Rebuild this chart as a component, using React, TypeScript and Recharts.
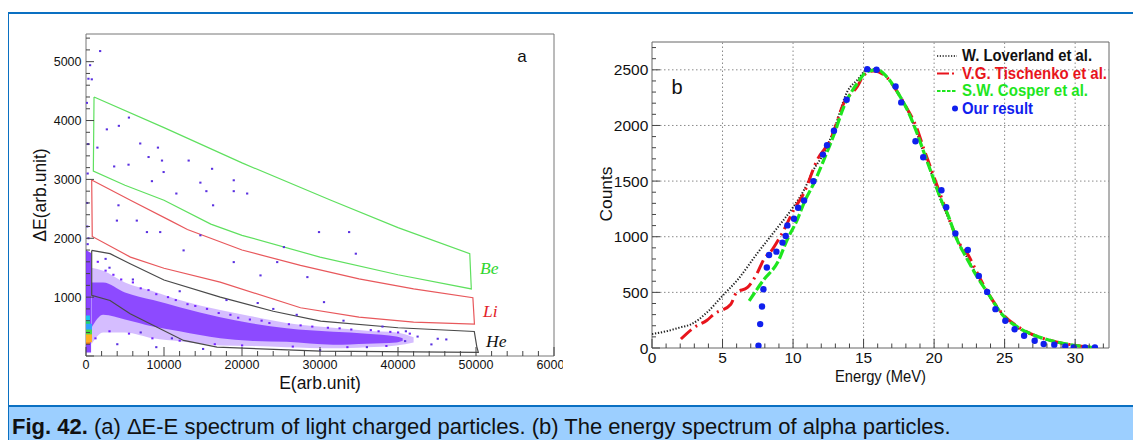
import React from "react";
import {
  ComposedChart,
  Line,
  Area,
  Scatter,
  XAxis,
  YAxis,
  Label,
  ReferenceArea,
  ReferenceLine,
} from "recharts";

const SANS = "'Liberation Sans', Arial, Helvetica, sans-serif";
const SERIF = "'Liberation Serif', 'Times New Roman', serif";
const BLUE = "#0a70c2";

// ---------- panel (a): ΔE-E ----------
// particle selection cuts (closed polygons)
const heE = [730, 3080, 5660, 10000, 17220, 24000, 30080, 40000, 49780, 50100, 50300, 30080, 16800, 12510, 9500, 5660, 3080, 730, 730];
const heDE = [1794, 1738, 1568, 1290, 1000, 760, 592, 480, 417, 160, 60, 82, 150, 264, 463, 718, 944, 1030, 1794];

const liE = [730, 5700, 10800, 13000, 20000, 27500, 35000, 42000, 49600, 49800, 42000, 35000, 27500, 17200, 10000, 5700, 800, 730];
const liDE = [2990, 2645, 2300, 2150, 1800, 1540, 1310, 1140, 990, 540, 575, 660, 820, 1255, 1490, 1680, 2030, 2990];

const beE = [1030, 10000, 20000, 31400, 40000, 49200, 49400, 40000, 30000, 20000, 16000, 10000, 5000, 940, 1030];
const beDE = [4400, 3880, 3280, 2645, 2180, 1740, 1140, 1380, 1680, 2050, 2240, 2645, 2900, 3140, 4400];

// alpha band: dense core and sparse halo (lower / upper edge)
const coreE = [700, 2200, 5000, 8600, 12000, 17200, 21000, 25700, 31700, 36000, 39800, 40600];
const coreLo = [480, 700, 620, 500, 420, 300, 260, 240, 190, 210, 230, 260];
const coreHi = [1250, 1250, 1080, 950, 830, 660, 560, 470, 410, 380, 330, 300];

const haloE = [700, 2200, 5000, 8600, 12000, 17200, 21000, 25700, 31700, 36000, 39800, 42000];
const haloLo = [200, 400, 400, 300, 250, 180, 170, 150, 130, 150, 180, 230];
const haloHi = [1500, 1450, 1250, 1100, 950, 780, 680, 560, 480, 430, 400, 320];

// low-energy strip along the ΔE axis
const stripE = [0, 650];
const stripLo = [60, 60];
const stripHi = [1800, 1750];

// high-count bins in the strip
const hotE = [120, 120, 120, 120, 120, 380, 380, 380];
const hotDE = [620, 520, 430, 350, 270, 480, 380, 300];
const hotColor = ["#18c8f0", "#20d860", "#f0e020", "#ff3020", "#f08020", "#30a0ff", "#40e040", "#ffb020"];

// isolated events
const sparseE = [1800, 510, 300, 730, 5490, 4200, 2660, 6940, 9210, 1450, 8010, 3600, 5440, 9730, 9940, 13150, 8440, 14650, 16150, 18930, 18930, 11570, 15420, 20650, 16280, 4150, 6500, 3950, 7800, 9500, 12500, 14650, 18930, 22360, 25360, 28370, 24500, 29860, 33720, 34580, 30500, 45080, 40900, 44270, 46180, 42500, 3000, 6000, 12000, 4000, 9000, 15000, 22000, 27000, 33000, 36000, 2500, 7000, 11000, 18000, 24000, 30000, 38000, 41000, 150, 200, 250, 100, 150, 300, 200];
const sparseDE = [5180, 4940, 4710, 4700, 4050, 3910, 3850, 3610, 3540, 3540, 3380, 3220, 3250, 3320, 3125, 3320, 2970, 2945, 3180, 2985, 2800, 2760, 2800, 2760, 2560, 2560, 2300, 2300, 2105, 2105, 1794, 2050, 1595, 1369, 1850, 1340, 1595, 2105, 2105, 1738, 915, 293, 253, 197, 281, 330, 1500, 1300, 1100, 200, 150, 120, 900, 700, 600, 150, 1650, 400, 300, 950, 800, 100, 500, 420, 2600, 3100, 3600, 4300, 2200, 2000, 1900];

const fringeE = [1500, 2500, 3500, 4500, 6000, 7000, 8000, 9000, 10500, 11500, 13000, 14000, 15500, 17000, 18500, 19500, 21000, 22500, 23500, 26000, 27500, 29000, 31000, 32500, 34000, 36500, 37500, 39000, 40000, 41500, 1200, 3000, 5500, 8500, 12000, 16500, 20000, 26500, 33500, 38500];
const fringeDE = [1600, 1450, 1380, 1300, 1250, 1150, 1120, 1050, 1000, 950, 880, 850, 800, 730, 700, 650, 620, 600, 560, 540, 520, 500, 480, 470, 450, 440, 420, 410, 400, 380, 300, 420, 380, 300, 260, 200, 180, 160, 150, 170];

const aXMajor = [0, 10000, 20000, 30000, 40000, 50000, 60000];
const aYMajor = [1000, 2000, 3000, 4000, 5000];
const aXTicks = Array.from({ length: 31 }, (_, i) => i * 2000);
const aYTicks = Array.from({ length: 28 }, (_, i) => i * 200);

// ---------- panel (b): alpha energy spectrum ----------
const lovE = [0, 1, 2, 2.8, 3.9, 5, 6.1, 7.5, 8.8, 10, 10.8, 11.4, 12.2, 12.9, 13.85, 14.56, 15.26, 15.85, 16.68, 17.39, 18.1, 18.68, 19.27, 19.87, 20.45, 20.93, 21.63, 22.34, 23.05, 23.76, 24.94, 25.88, 27.06, 28.24, 29.89, 31.42];
const lovC = [125, 150, 185, 215, 320, 469, 618, 857, 1066, 1265, 1425, 1589, 1753, 1962, 2305, 2410, 2500, 2506, 2425, 2305, 2141, 1962, 1753, 1544, 1335, 1190, 977, 813, 648, 499, 289, 185, 110, 65, 27, 6];

const tisE = [2.05, 2.99, 3.9, 4.4, 5.59, 5.99, 6.77, 7.48, 7.9, 8.54, 9.25, 10.07, 10.78, 11.72, 12.66, 13.6, 14.56, 15.05, 15.7, 16.5, 17.3, 18.0, 18.7, 19.3, 19.9, 20.5, 21.1, 21.7, 22.4, 23.0, 23.8, 24.9, 25.9, 27.0, 28.2, 29.9, 31.4];
const tisC = [81, 185, 250, 305, 394, 499, 544, 678, 790, 887, 1037, 1245, 1395, 1693, 1873, 2200, 2350, 2455, 2490, 2450, 2320, 2170, 2000, 1780, 1570, 1360, 1150, 960, 840, 690, 500, 300, 195, 120, 70, 25, 5];

const cosE = [6.89, 7.95, 8.9, 9.6, 10.31, 10.78, 11.49, 12.19, 12.9, 13.61, 14.56, 15.26, 15.97, 16.7, 17.4, 18.1, 18.7, 19.3, 19.9, 20.5, 21.0, 21.6, 22.3, 23.0, 23.8, 24.9, 25.9, 27.1, 28.2, 29.9, 31.6];
const cosC = [424, 618, 768, 977, 1156, 1305, 1485, 1693, 1917, 2171, 2380, 2485, 2500, 2430, 2300, 2140, 1960, 1750, 1540, 1330, 1190, 980, 810, 650, 495, 290, 190, 115, 70, 25, 0];

const ourE = [7.55, 7.67, 7.8, 7.9, 8.14, 8.3, 8.82, 9.25, 9.48, 9.6, 10.07, 10.36, 10.78, 11.44, 12.12, 12.41, 12.9, 13.8, 15.26, 15.92, 17.27, 17.67, 18.68, 19.23, 20.52, 20.86, 21.51, 22.39, 23.17, 23.76, 24.35, 25.05, 25.71, 26.38, 27.13, 27.77, 28.52, 29.3, 29.9, 30.7, 31.4];
const ourC = [21, 215, 373, 528, 723, 836, 866, 947, 1006, 1102, 1162, 1260, 1326, 1499, 1738, 1822, 1953, 2231, 2506, 2500, 2350, 2207, 1858, 1714, 1418, 1266, 1030, 881, 648, 504, 349, 245, 168, 110, 65, 36, 30, 15, 5, 5, 5];

const bXMajor = [0, 5, 10, 15, 20, 25, 30];
const bYMajor = [0, 500, 1000, 1500, 2000, 2500];
const bXTicks = Array.from({ length: 33 }, (_, i) => i);
const bYTicks = Array.from({ length: 28 }, (_, i) => i * 100);

const pts = (xs: number[], ys: number[]) => xs.map((x, i) => ({ x, y: ys[i] }));
const band = (xs: number[], lo: number[], hi: number[]) => xs.map((x, i) => ({ x, r: [lo[i], hi[i]] }));

const xTick = (majors: number[], majorLen: number, minorLen: number, fontSize: number, dy: number) =>
  (props: any) => {
    const { x, y, payload } = props;
    const major = majors.includes(payload.value);
    return (
      <g>
        <line x1={x} y1={y} x2={x} y2={y - (major ? majorLen : minorLen)} stroke="#444" />
        {major && (
          <text x={x} y={y + dy} textAnchor="middle" fontSize={fontSize} fontFamily={SANS} fill="#111">
            {payload.value}
          </text>
        )}
      </g>
    );
  };

const yTick = (majors: number[], majorLen: number, minorLen: number, fontSize: number, gap: number) =>
  (props: any) => {
    const { x, y, payload } = props;
    const major = majors.includes(payload.value);
    const labelled = major && payload.value !== 0 ? true : major && majors[0] === 0;
    return (
      <g>
        <line x1={x} y1={y} x2={x + (major || payload.value % 1000 === 0 ? majorLen : minorLen)} y2={y} stroke="#444" />
        {labelled && (
          <text x={x - gap} y={y} dy="0.36em" textAnchor="end" fontSize={fontSize} fontFamily={SANS} fill="#111">
            {payload.value}
          </text>
        )}
      </g>
    );
  };

const pixel = (color: string) => (p: any) => (
  <rect x={p.cx - 1} y={p.cy - 1} width={2.2} height={2} fill={color} />
);

function PanelA() {
  const purple = "#7424ff";
  return (
    <ComposedChart width={580} height={400} margin={{ top: 34, right: 26, bottom: 0, left: 0 }}>
      <XAxis
        type="number"
        dataKey="x"
        domain={[0, 60000]}
        allowDataOverflow
        ticks={aXTicks}
        interval={0}
        tick={xTick(aXMajor, 9, 5, 12.5, 12.5)}
        tickLine={false}
        axisLine={false}
        tickSize={0}
        tickMargin={0}
        height={44}
      >
        <Label
          content={(p: any) => (
            <text x={p.viewBox.x + p.viewBox.width / 2} y={p.viewBox.y + 33} textAnchor="middle" fontSize={17.5} fontFamily={SANS} fill="#111">
              E(arb.unit)
            </text>
          )}
        />
      </XAxis>
      <YAxis
        type="number"
        dataKey="y"
        domain={[0, 5470]}
        allowDataOverflow
        ticks={aYTicks}
        interval={0}
        tick={yTick(aYMajor, 8, 4, 12.5, 4.5)}
        tickLine={false}
        axisLine={false}
        tickSize={0}
        tickMargin={0}
        width={86}
      >
        <Label
          content={(p: any) => {
            const cx = 46;
            const cy = p.viewBox.y + p.viewBox.height / 2;
            return (
              <text x={cx} y={cy} transform={`rotate(-90 ${cx} ${cy})`} textAnchor="middle" fontSize={17.5} fontFamily={SANS} fill="#111">
                ΔE(arb.unit)
              </text>
            );
          }}
        />
      </YAxis>
      <ReferenceArea x1={0} x2={60000} y1={0} y2={5470} fill="none" stroke="#777" strokeWidth={1} ifOverflow="visible" />
      <Area data={band(haloE, haloLo, haloHi)} dataKey="r" type="monotone" stroke="none" fill={purple} fillOpacity={0.3} isAnimationActive={false} />
      <Area data={band(coreE, coreLo, coreHi)} dataKey="r" type="monotone" stroke="none" fill={purple} fillOpacity={0.75} isAnimationActive={false} />
      <Area data={band(stripE, stripLo, stripHi)} dataKey="r" type="linear" stroke="none" fill={purple} fillOpacity={0.85} isAnimationActive={false} />
      <Scatter data={pts(fringeE, fringeDE)} shape={pixel(purple)} isAnimationActive={false} />
      <Scatter data={pts(sparseE, sparseDE)} shape={pixel("#5a30e0")} isAnimationActive={false} />
      <Scatter
        data={hotE.map((x, i) => ({ x, y: hotDE[i], c: hotColor[i] }))}
        shape={(p: any) => <rect x={p.cx - 3} y={p.cy - 4} width={6} height={8} fill={p.payload.c} />}
        isAnimationActive={false}
      />
      <Line data={pts(beE, beDE)} dataKey="y" type="linear" stroke="#5fe05f" strokeWidth={1.2} dot={false} activeDot={false} isAnimationActive={false} />
      <Line data={pts(liE, liDE)} dataKey="y" type="linear" stroke="#e8585c" strokeWidth={1.2} dot={false} activeDot={false} isAnimationActive={false} />
      <Line data={pts(heE, heDE)} dataKey="y" type="linear" stroke="#4a4a4a" strokeWidth={1.2} dot={false} activeDot={false} isAnimationActive={false} />
    </ComposedChart>
  );
}

function PanelB() {
  return (
    <ComposedChart width={561} height={400} margin={{ top: 42, right: 32, bottom: 0, left: 0 }}>
      <XAxis
        type="number"
        dataKey="x"
        domain={[0, 32.4]}
        allowDataOverflow
        ticks={bXTicks}
        interval={0}
        tick={xTick(bXMajor, 9, 4.5, 15.5, 15.3)}
        tickLine={false}
        axisLine={false}
        tickSize={0}
        tickMargin={0}
        height={52}
      >
        <Label
          content={(p: any) => (
            <text x={p.viewBox.x + p.viewBox.width / 2} y={p.viewBox.y + 33.5} textAnchor="middle" fontSize={17} textLength={91} lengthAdjust="spacingAndGlyphs" fontFamily={SANS} fill="#111">
              Energy (MeV)
            </text>
          )}
        />
      </XAxis>
      <YAxis
        type="number"
        dataKey="y"
        domain={[0, 2750]}
        allowDataOverflow
        ticks={bYTicks}
        interval={0}
        tick={yTick(bYMajor, 8, 4, 15.5, 3.7)}
        tickLine={false}
        axisLine={false}
        tickSize={0}
        tickMargin={0}
        width={72}
      >
        <Label
          content={(p: any) => {
            const cx = 31.5;
            const cy = 194;
            return (
              <text x={cx} y={cy} transform={`rotate(-90 ${cx} ${cy})`} textAnchor="middle" fontSize={17} textLength={55} lengthAdjust="spacingAndGlyphs" fontFamily={SANS} fill="#111">
                Counts
              </text>
            );
          }}
        />
      </YAxis>
      {bXMajor.slice(1).map((v) => (
        <ReferenceLine key={`gx${v}`} x={v} stroke="#8a8a8a" strokeDasharray="1.5 2.5" />
      ))}
      {bYMajor.slice(1).map((v) => (
        <ReferenceLine key={`gy${v}`} y={v} stroke="#8a8a8a" strokeDasharray="1.5 2.5" />
      ))}
      <ReferenceArea x1={0} x2={32.4} y1={0} y2={2750} fill="none" stroke="#666" strokeWidth={1} ifOverflow="visible" />
      <Line data={pts(lovE, lovC)} dataKey="y" type="monotone" stroke="#222" strokeWidth={2} strokeDasharray="1.3 1.7" dot={false} activeDot={false} isAnimationActive={false} />
      <Line data={pts(tisE, tisC)} dataKey="y" type="monotone" stroke="#e8141c" strokeWidth={3} strokeDasharray="14 5 2 5" dot={false} activeDot={false} isAnimationActive={false} />
      <Line data={pts(cosE, cosC)} dataKey="y" type="monotone" stroke="#1ee61e" strokeWidth={3.2} strokeDasharray="10 3" dot={false} activeDot={false} isAnimationActive={false} />
      <Scatter data={pts(ourE, ourC)} shape={(p: any) => <circle cx={p.cx} cy={p.cy} r={3.2} fill="#1020ee" />} isAnimationActive={false} />
    </ComposedChart>
  );
}

const legendRows = [
  { name: "W. Loverland et al.", color: "#111", width: 130, base: 61, kind: "dot" },
  { name: "V.G. Tischenko et al.", color: "#e8141c", width: 145, base: 78.5, kind: "dashdot" },
  { name: "S.W. Cosper et al.", color: "#1ee61e", width: 126, base: 96, kind: "dash" },
  { name: "Our result", color: "#1020ee", width: 71, base: 113.5, kind: "marker" },
];

export default function App() {
  return (
    <div style={{ position: "relative", width: 1141, height: 448, margin: -8, background: "#fff", overflow: "hidden", fontFamily: SANS }}>
      <div style={{ position: "absolute", left: 7, top: 12, width: 1134, height: 2, background: BLUE }} />
      <div style={{ position: "absolute", left: 7, top: 12, width: 2, height: 436, background: BLUE }} />
      <div style={{ position: "absolute", left: 7, top: 405, width: 1134, height: 2, background: BLUE }} />
      <div style={{ position: "absolute", left: 9, top: 407, width: 1132, height: 41, background: "#9ccfff" }} />

      <div style={{ position: "absolute", left: 0, top: 0, width: 563, height: 400, overflow: "hidden" }}>
        <PanelA />
      </div>
      <div style={{ position: "absolute", left: 580, top: 0, width: 561, height: 400 }}>
        <PanelB />
      </div>

      <svg width={1141} height={448} style={{ position: "absolute", left: 0, top: 0, pointerEvents: "none" }}>
        <text x={522} y={61.5} textAnchor="middle" fontSize={17} fontFamily={SANS} fill="#111">a</text>
        <text x={677} y={94} textAnchor="middle" fontSize={20} fontFamily={SANS} fill="#111">b</text>

        <text x={480} y={274} fontSize={17.5} fontStyle="italic" fontFamily={SERIF} fill="#2fd62f">Be</text>
        <text x={483} y={316.5} fontSize={17.5} fontStyle="italic" fontFamily={SERIF} fill="#e3232a">Li</text>
        <text x={486} y={346.5} fontSize={17.5} fontStyle="italic" fontFamily={SERIF} fill="#111">He</text>

        {legendRows.map((r) => {
          const cy = r.base - 5;
          return (
            <g key={r.name}>
              {r.kind === "dot" && <line x1={937} x2={957} y1={cy} y2={cy} stroke={r.color} strokeWidth={1.6} strokeDasharray="1.2 1.6" />}
              {r.kind === "dashdot" && <line x1={937} x2={957} y1={cy} y2={cy} stroke={r.color} strokeWidth={2} strokeDasharray="12 3 2 3" />}
              {r.kind === "dash" && <line x1={937} x2={957} y1={cy} y2={cy} stroke={r.color} strokeWidth={2} strokeDasharray="3.5 1.5" />}
              {r.kind === "marker" && <circle cx={955} cy={cy} r={3} fill={r.color} />}
              <text x={962} y={r.base} fontSize={16} fontWeight="bold" fontFamily={SANS} fill={r.color} textLength={r.width} lengthAdjust="spacingAndGlyphs">
                {r.name}
              </text>
            </g>
          );
        })}

        <text x={12} y={434} fontSize={22} fontFamily={SANS} fill="#111">
          <tspan fontWeight="bold">Fig. 42.</tspan> (a) ΔE-E spectrum of light charged particles. (b) The energy spectrum of alpha particles.
        </text>
      </svg>
    </div>
  );
}
